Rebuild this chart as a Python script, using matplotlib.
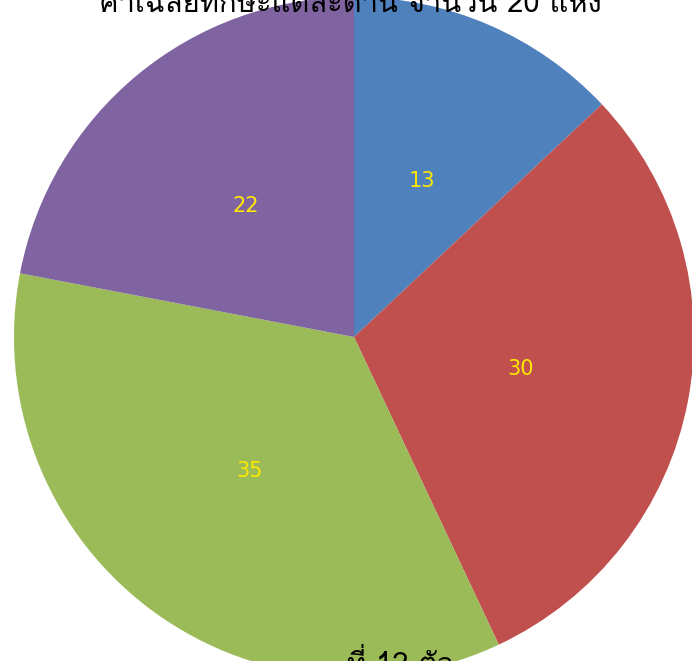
import matplotlib
matplotlib.use('Agg')
import matplotlib.pyplot as plt
from matplotlib import font_manager
from matplotlib.ft2font import FT2Font

# ข้อมูลแต่ละส่วน
labels = ['13', '30', '35', '22']
values = [13, 30, 35, 22]
colors = ['#4F81BD', '#C0504D', '#9BBB59', '#8064A2']
title_text = 'ค่าเฉลี่ยทักษะแต่ละด้าน จำนวน 20 แห่ง'
bottom_text = 'ที่ 12 ตัว'

# หาฟอนต์ที่มีตัวอักษรไทย ถ้าไม่มีก็ใช้ DejaVu Sans
thai_font = None
for f in font_manager.fontManager.ttflist:
    try:
        if ord('ก') in FT2Font(f.fname).get_charmap():
            thai_font = f.name
            break
    except Exception:
        pass
families = [thai_font, 'DejaVu Sans'] if thai_font else ['DejaVu Sans']

W, H = 692, 661
fig = plt.figure(figsize=(W / 100, H / 100), dpi=100)
ax = fig.add_axes([0, 0, 1, 1])

cx, cy, r = 354, H - 337, 340
wedges, texts = ax.pie(values, labels=labels, colors=colors, startangle=90,
                       counterclock=False, center=(cx, cy), radius=r,
                       labeldistance=0.5, wedgeprops=dict(linewidth=0),
                       textprops=dict(color='#FFE800', fontsize=15, family='DejaVu Sans',
                                      ha='center', va='center'))

ax.set_xlim(0, W)
ax.set_ylim(0, H)
ax.set_aspect('equal')
ax.axis('off')

ax.text(350, H - 12, title_text, ha='center', va='baseline', fontsize=21,
        family=families, color='black', clip_on=False)
ax.text(400, H - 673, bottom_text, ha='center', va='baseline', fontsize=21,
        family=families, color='black', clip_on=False)

fig.savefig('out.png', dpi=100)
